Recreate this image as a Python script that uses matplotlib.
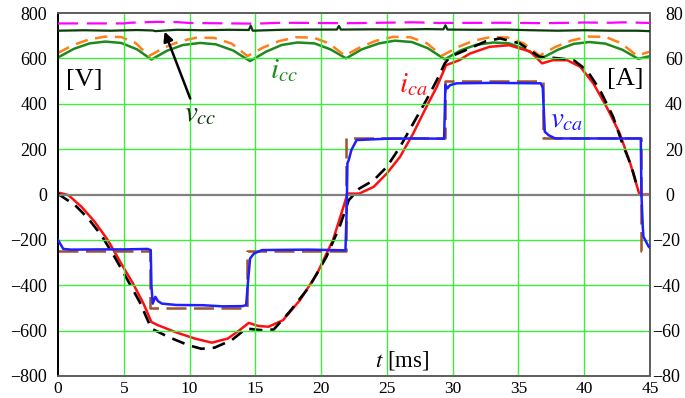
import matplotlib.pyplot as plt
import matplotlib.transforms as mtransforms

plt.rcParams['font.family'] = ['Liberation Serif', 'DejaVu Serif']
plt.rcParams['mathtext.fontset'] = 'stix'

# DC-link voltage reference (magenta) and measured v_cc (dark green), in V
t_vref = [0, 5, 5.5, 7.5, 9, 10, 15, 17, 22, 27, 29, 34, 37, 40, 42, 43, 45]
v_vref = [754, 754, 757, 761, 760, 756, 753, 757, 755, 759, 756, 757, 755, 758, 757, 759, 756]

t_vcc = [0, 2, 4, 6, 7.2, 7.4, 9, 11, 13, 14.5, 14.65, 14.8, 17, 19, 21.2, 21.35, 21.5,
         24, 26, 28, 29.3, 29.45, 29.6, 32, 34, 36, 38, 40, 42, 44, 45]
v_vcc = [722, 724, 722, 725, 723, 720, 726, 724, 726, 725, 744, 722, 726, 727, 727, 743, 727,
         728, 727, 729, 728, 746, 727, 726, 727, 724, 722, 724, 722, 722, 720]

# DC-link current: measured i_cc (green) and reference (orange), in A
t_icc = [0, 1.2, 2.4, 3.6, 4.8, 6.0, 7.1, 8.3, 9.5, 10.8, 12.0, 13.3, 14.6, 15.8, 17.0,
         18.2, 19.5, 20.7, 21.9, 23.1, 24.4, 25.6, 26.9, 28.1, 29.4, 30.6, 31.8, 33.1,
         34.3, 35.5, 36.75, 38.0, 39.2, 40.4, 41.6, 42.9, 44.1, 45.0]
i_icc = [60.4, 64.2, 66.6, 67.4, 66.8, 64.0, 59.5, 63.4, 65.9, 66.8, 66.2, 63.5, 58.8, 62.9,
         65.9, 67.0, 66.6, 64.0, 60.0, 64.0, 66.6, 67.8, 67.2, 64.5, 59.6, 63.5, 66.0, 67.0,
         66.6, 64.0, 60.0, 63.8, 66.4, 67.2, 66.5, 63.8, 59.8, 61.0]

t_icc_ref = [0, 1.2, 2.4, 3.6, 4.8, 5.9, 6.9, 8.1, 9.3, 10.6, 11.9, 13.2, 14.4, 15.6, 16.8,
             18.1, 19.4, 20.6, 21.8, 23.0, 24.2, 25.5, 26.8, 28.0, 29.2, 30.4, 31.6, 32.9,
             34.2, 35.4, 36.6, 37.8, 39.0, 40.3, 41.6, 42.8, 44.0, 45.0]
i_icc_ref = [62.4, 66.0, 68.4, 69.6, 69.4, 66.8, 61.0, 64.8, 67.6, 69.2, 69.0, 66.5, 61.0,
             64.8, 67.6, 69.3, 69.2, 66.6, 61.2, 65.0, 67.8, 69.5, 69.3, 66.8, 61.2, 65.0,
             67.8, 69.4, 69.2, 66.6, 61.2, 65.0, 67.8, 69.6, 69.5, 66.7, 61.2, 63.0]

# AC current: reference (black dashed) and measured i_ca (red), in A
t_ica_ref = [0, 0.15, 1.3, 2.3, 3.3, 4.3, 5.3, 6.2, 7.1, 8.4, 9.9, 10.9, 11.9, 13.2, 14.3,
             15.5, 16.4, 17.6, 19.1, 20.4, 21.4, 22.1, 22.9, 24.0, 25.0, 26.0, 27.0, 28.0,
             28.8, 29.4, 29.8, 31.3, 32.5, 33.6, 35.1, 36.6, 38.1, 39.2, 40.2, 41.2, 42.2,
             42.9, 43.6, 44.1]
i_ica_ref = [0.5, -0.3, -4.7, -10.6, -18.0, -27.5, -37.8, -47.3, -59.1, -62.8, -66.4, -68.0,
             -67.5, -64.2, -59.1, -59.8, -59.5, -51.7, -40.7, -27.5, -14.3, -2.5, 2.6, 6.3,
             12.2, 21.0, 31.3, 41.6, 50.4, 57.8, 60.7, 64.4, 67.5, 68.8, 66.6, 60.7, 60.0,
             59.2, 54.8, 46.0, 34.2, 22.5, 12.2, 1.9]

t_ica = [0, 0.15, 0.8, 1.8, 2.8, 3.8, 4.8, 5.7, 6.5, 7.1, 7.6, 8.9, 10.4, 11.7, 12.9, 13.8,
         14.5, 15.2, 16.0, 17.1, 18.4, 19.7, 20.9, 21.7, 22.0, 22.9, 24.0, 25.0, 26.0, 27.0,
         28.0, 28.8, 29.5, 30.5, 31.3, 32.8, 34.3, 35.9, 36.8, 37.6, 38.7, 39.7, 40.7, 41.7,
         42.7, 43.5, 44.1, 44.2, 45.0]
i_ica = [0.5, 0.7, -0.3, -5.5, -12.1, -20.2, -30.4, -39.2, -48.1, -56.2, -57.6, -60.6,
         -63.5, -65.3, -63.5, -59.8, -56.6, -57.9, -58.3, -55.4, -46.5, -34.8, -20.1, -5.4,
         0.4, 0.4, 3.4, 9.3, 16.6, 26.9, 38.6, 47.5, 57.0, 59.2, 62.1, 65.1, 65.8, 63.0,
         57.8, 59.2, 59.2, 56.3, 48.9, 38.6, 26.9, 13.7, 1.9, 0.0, 0.0]

# AC voltage: multilevel reference (brown steps) and measured v_ca (blue), in V
t_vca_ref = [0, 7.0, 14.4, 21.9, 29.4, 36.9, 44.35, 45]
v_vca_ref = [-250, -500, -250, 250, 500, 250, -250, -250]

t_vca = [0, 0.4, 1, 3, 5, 6.8, 7.05, 7.1, 7.2, 7.4, 7.6, 7.9, 9, 11, 12.5, 14.0, 14.3, 14.45,
         14.6, 14.9, 15.5, 17, 19, 21.85, 21.95, 22.0, 22.1, 22.3, 22.7, 25, 27, 29.35, 29.45,
         29.6, 29.8, 30.3, 33, 36.7, 36.85, 37.0, 37.3, 37.8, 40, 44.3, 44.35, 44.45, 44.5,
         44.7, 44.9, 45]
v_vca = [-200, -240, -243, -242, -242, -240, -245, -400, -481, -451, -470, -481, -487, -488,
         -493, -492, -488, -380, -282, -260, -245, -244, -243, -246, -54, 137, 152, 196, 240,
         246, 247, 246, 483, 468, 482, 490, 492, 490, 470, 277, 261, 247, 247, 247, 0, -142,
         -186, -208, -230, -235]

v_ticks = [-800, -600, -400, -200, 0, 200, 400, 600, 800]
a_ticks = [-80, -60, -40, -20, 0, 20, 40, 60, 80]
t_ticks = [0, 5, 10, 15, 20, 25, 30, 35, 40, 45]

grid_c = '#3cee3c'

fig = plt.figure(figsize=(6.85, 3.98), dpi=100)
ax = fig.add_axes([58 / 685, 1 - 376 / 398, 592 / 685, 363 / 398])
ax2 = ax.twinx()

ax.set_xlim(0, 45)
ax.set_ylim(-800, 800)
ax2.set_ylim(-80, 80)

for x in t_ticks[1:-1]:
    ax.axvline(x, color=grid_c, lw=1.0, zorder=0)
for y in v_ticks[1:-1]:
    if y == 0:
        ax.axhline(y, color='#808080', lw=1.6, zorder=0)
    else:
        ax.axhline(y, color=grid_c, lw=1.0, zorder=0)

# voltages on the left axis
ax.plot(t_vca_ref, v_vca_ref, drawstyle='steps-post', color='#a0522d', lw=1.8,
        dashes=(8, 3), zorder=2)
ax.plot(t_vca, v_vca, color='#1f1fff', lw=1.8, zorder=3)
ax.plot(t_vref, v_vref, color='#ff00ff', lw=1.6, dashes=(9, 4), zorder=3)
ax.plot(t_vcc, v_vcc, color='#0b3d0b', lw=1.6, zorder=3)

# currents on the right axis
ax2.plot(t_icc, i_icc, color='#1e8a1e', lw=1.8, zorder=3)
ax2.plot(t_icc_ref, i_icc_ref, color='#ff7f1a', lw=1.8, dashes=(5, 3), zorder=3)
ax2.plot(t_ica, i_ica, color='#ff1010', lw=1.8, zorder=4)
ax2.plot(t_ica_ref, i_ica_ref, color='black', lw=1.9, dashes=(5, 3), zorder=5)

ax.set_xticks(t_ticks)
ax.set_yticks(v_ticks, [str(v).replace('-', '\u2212') for v in v_ticks])
ax2.set_yticks(a_ticks, [str(v).replace('-', '\u2212') for v in a_ticks])

ax.tick_params(axis='both', length=0, labelsize=13, colors='black')
ax.tick_params(axis='y', pad=8)
ax.tick_params(axis='x', pad=3.5, labelsize=12.5)
ax2.tick_params(axis='y', length=0, labelsize=13, pad=1.5)

# positive right-hand labels line their digits up with the negative ones
shift = mtransforms.ScaledTranslation(0.13, 0, fig.dpi_scale_trans)
for lbl in ax2.get_yticklabels():
    if not lbl.get_text().startswith('\u2212'):
        lbl.set_transform(lbl.get_transform() + shift)

for a in (ax, ax2):
    for side in ('top', 'right', 'bottom'):
        a.spines[side].set_color('#606060')
        a.spines[side].set_linewidth(1.3)
    a.spines['left'].set_color('black')
    a.spines['left'].set_linewidth(1.3)

ax.set_zorder(ax2.get_zorder() + 1)
ax.patch.set_visible(False)

ax.text(0.6, 505, '[V]', fontsize=19, va='center', ha='left')
ax.text(41.7, 511, '[A]', fontsize=19, va='center', ha='left')
ax.text(9.6, 323, r'$v_{cc}$', fontsize=21, color='#0b3d0b', va='baseline')
ax.text(16.1, 511, r'$i_{cc}$', fontsize=21, color='#1e8a1e', va='baseline')
ax.text(25.9, 452, r'$i_{ca}$', fontsize=21, color='#ff1010', va='baseline')
ax.text(37.4, 298, r'$v_{ca}$', fontsize=21, color='#1f1fff', va='baseline')
ax.text(24.1, -760, r'$t$ [ms]', fontsize=16.5, va='baseline')
ax.annotate('', xy=(8.1, 718), xytext=(10.05, 423),
            arrowprops=dict(arrowstyle='-|>', color='black', lw=1.8,
                            mutation_scale=14, shrinkA=0, shrinkB=0))

fig.savefig('out.png', dpi=100)
